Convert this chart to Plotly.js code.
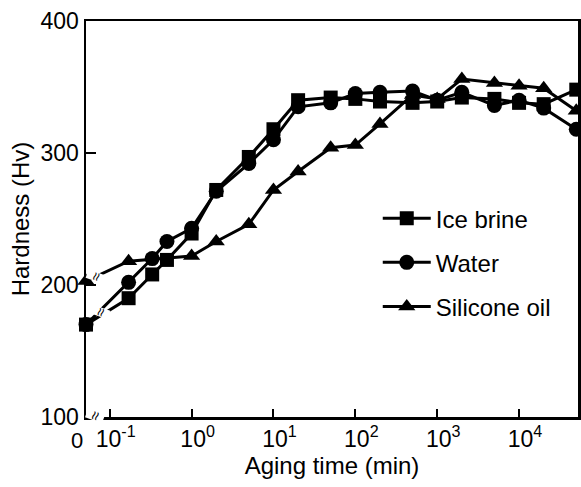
<!DOCTYPE html>
<html>
<head>
<meta charset="utf-8">
<script src="https://cdn.plot.ly/plotly-3.0.1.min.js"></script>
<style>html,body{margin:0;padding:0;background:#fff;}#chart{width:581px;height:487px;}</style>
</head>
<body>
<div id="chart"></div>
<script>
// Aging time (min); 0 is drawn at the axis break position
const ZERO_POS = 0.0513;
const timeMain = [0, 0.17, 0.33, 0.5, 1, 2, 5, 10, 20, 50, 100, 200, 500, 1000, 2000, 5000, 10000, 20000, 50000];
const iceBrine = [170, 190, 208, 219, 239, 272, 297, 318, 340, 342, 341, 339, 338, 339, 342, 341, 338, 337, 348];
const water    = [170, 202, 220, 233, 243, 271, 292, 310, 335, 338, 345, 346, 347, 340, 346, 336, 340, 334, 318];
const timeSil  = [0, 0.17, 1, 2, 5, 10, 20, 50, 100, 200, 500, 1000, 2000, 5000, 10000, 20000, 50000];
const silicone = [203, 218, 222, 233, 246, 272, 286, 304, 306, 322, 344, 341, 356, 353, 351, 349, 332];

const tickVals = [0.1, 1, 10, 100, 1000, 10000];
const tickText = ['10<sup>-1</sup>', '10<sup>0</sup>', '10<sup>1</sup>', '10<sup>2</sup>', '10<sup>3</sup>', '10<sup>4</sup>'];
const zeroLabel = '0';
const yTicks = [100, 200, 300, 400];

const pos = t => t.map(v => v === 0 ? ZERO_POS : v);
const FONT = 'Liberation Sans, Arial, Helvetica, sans-serif';
const FS = 24;

function tr(name, x, y, sym, size, grp) {
  return {
    type: 'scatter', mode: 'lines+markers', name: name,
    x: pos(x), y: y, legendgroup: grp,
    line: {color: '#000', width: 3},
    marker: {symbol: sym, size: size, color: '#000'},
    cliponaxis: false
  };
}

const data = [
  tr('Ice brine', timeMain, iceBrine, 'square', 14, 'a'),
  tr('Water', timeMain, water, 'circle', 15, 'b'),
  tr('Silicone oil', timeSil, silicone, 'triangle-up', 15, 'c')
];

const breakMark = (x, y, s) => ({xref: 'paper', yref: 'paper', x: x, y: y, text: '≈', showarrow: false,
  xanchor: 'center', yanchor: 'middle', textangle: -70,
  font: {family: FONT, size: s, color: '#000'}, bgcolor: '#fff', borderpad: 0});

const layout = {
  width: 581, height: 487,
  margin: {l: 86, r: 3, t: 21, b: 70},
  paper_bgcolor: '#fff', plot_bgcolor: '#fff',
  font: {family: FONT, size: FS, color: '#000'},
  showlegend: true,
  legend: {
    x: 0.593, y: 0.558, xanchor: 'left', yanchor: 'top',
    bgcolor: 'rgba(0,0,0,0)', borderwidth: 0, itemwidth: 48,
    font: {family: FONT, size: FS, color: '#000'},
    tracegroupgap: 10
  },
  xaxis: {
    type: 'log', range: [Math.log10(ZERO_POS), 4.72],
    tickvals: tickVals, ticktext: tickText, tickangle: 0, ticklabelshift: 6,
    ticks: 'inside', ticklen: 8, tickwidth: 2, tickcolor: '#000',
    showline: true, linewidth: 2.5, linecolor: '#000', mirror: true,
    showgrid: false, zeroline: false,
    tickfont: {family: FONT, size: 23, color: '#000'},
    title: {text: 'Aging time (min)', font: {family: FONT, size: FS, color: '#000'}, standoff: 6}
  },
  yaxis: {
    range: [100, 400], tickvals: yTicks,
    ticks: 'inside', ticklen: 10, tickwidth: 2, tickcolor: '#000',
    showline: true, linewidth: 2.5, linecolor: '#000', mirror: true,
    showgrid: false, zeroline: false,
    tickfont: {family: FONT, size: 23, color: '#000'},
    title: {text: 'Hardness (Hv)', font: {family: FONT, size: FS, color: '#000'}, standoff: 4}
  },
  annotations: [
    {xref: 'paper', yref: 'paper', x: -0.018, y: 0, text: zeroLabel, showarrow: false,
     xanchor: 'center', yanchor: 'middle', yshift: -23, borderpad: 0,
     font: {family: FONT, size: 22, color: '#000'}},
    breakMark(0.018, 0.005, 16),
    breakMark(0.02, 0.354, 15),
    breakMark(0.028, 0.265, 15)
  ]
};

Plotly.newPlot('chart', data, layout, {displayModeBar: false, staticPlot: true});
</script>
</body>
</html>
